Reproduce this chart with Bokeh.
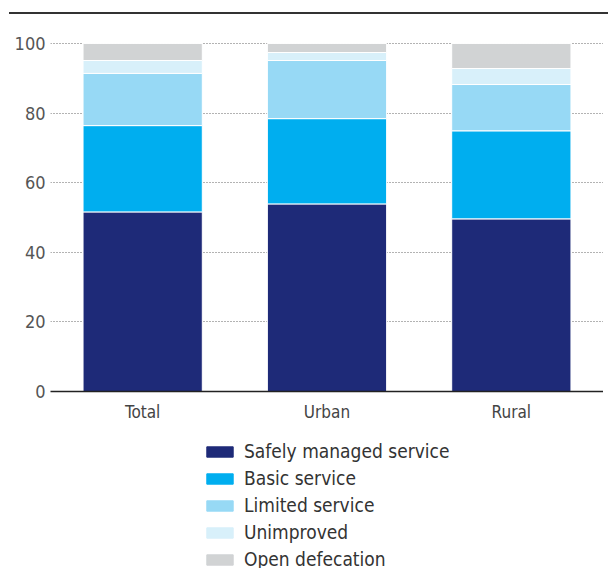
from bokeh.plotting import figure
from bokeh.models import ColumnDataSource, Legend, LegendItem, Div, Range1d, FixedTicker
from bokeh.layouts import column
from bokeh.embed import file_html
from bokeh.resources import INLINE

categories = ["Total", "Urban", "Rural"]
series = ["Safely managed service", "Basic service", "Limited service", "Unimproved", "Open defecation"]
safely = [51.6, 53.9, 49.6]
basic = [24.8, 24.5, 25.3]
limited = [15.0, 16.7, 13.3]
unimproved = [3.7, 2.3, 4.6]
open_def = [4.9, 2.6, 7.2]
y_ticks = [0, 20, 40, 60, 80, 100]

colors = ["#1e2a78", "#00aeef", "#97d9f5", "#d8f0fa", "#d1d3d4"]
FONT = "DejaVu Sans Condensed"

src = ColumnDataSource(dict(cat=categories, s0=safely, s1=basic, s2=limited, s3=unimproved, s4=open_def))
keys = ["s0", "s1", "s2", "s3", "s4"]

p = figure(x_range=categories, y_range=Range1d(0, 102), width=603, height=409,
           output_backend="svg", toolbar_location=None,
           min_border_left=50, min_border_right=0, min_border_top=21, min_border_bottom=0)
p.outline_line_color = None

rs = p.vbar_stack(keys, x="cat", width=0.647, color=colors, line_color="white", line_width=1, source=src)

p.yaxis.ticker = FixedTicker(ticks=y_ticks)
p.yaxis.axis_line_color = None
p.yaxis.major_tick_line_color = None
p.yaxis.minor_tick_line_color = None
p.yaxis.major_label_text_font = FONT
p.yaxis.major_label_text_font_size = "18px"
p.yaxis.major_label_text_color = "#555555"
p.yaxis.major_label_standoff = -1

p.xaxis.axis_line_color = "#222222"
p.xaxis.axis_line_width = 1.5
p.xaxis.major_tick_line_color = None
p.xaxis.minor_tick_line_color = None
p.xaxis.major_label_text_font = FONT
p.xaxis.major_label_text_font_size = "17px"
p.xaxis.major_label_text_color = "#444444"
p.xaxis.major_label_standoff = 4

p.xgrid.grid_line_color = None
p.ygrid.grid_line_color = "#666666"
p.ygrid.grid_line_dash = "1 2"
p.ygrid.grid_line_width = 1
p.ygrid.ticker = FixedTicker(ticks=[20, 40, 60, 80, 100])

# legend figure
lg = figure(width=603, height=150, output_backend="svg", toolbar_location=None,
            min_border=0, x_range=(0, 1), y_range=(0, 1))
lg.axis.visible = False
lg.grid.visible = False
lg.outline_line_color = None
offscreen = ColumnDataSource(dict(x=[5], top=[5]))
lrs = [lg.vbar(x="x", top="top", width=0.1, color=c, source=offscreen) for c in colors]
legend = Legend(items=[LegendItem(label=s, renderers=[r]) for s, r in zip(series, lrs)],
                orientation="vertical")
legend.border_line_color = None
legend.background_fill_alpha = 0
legend.label_text_font = FONT
legend.label_text_font_size = "19px"
legend.label_text_color = "#333333"
legend.glyph_width = 33
legend.glyph_height = 13
legend.label_standoff = 8
legend.label_height = 20
legend.spacing = 5
legend.padding = 0
legend.margin = 0
legend.location = (153, 4)
lg.add_layout(legend, "center")

top = Div(text="<div style='border-top:2px solid #333333;position:relative;top:-3px;width:600px;margin-left:4px'></div>",
          width=603, height=5)

layout = column(top, p, lg, spacing=0)
open("out.html", "w").write(file_html(layout, INLINE))
